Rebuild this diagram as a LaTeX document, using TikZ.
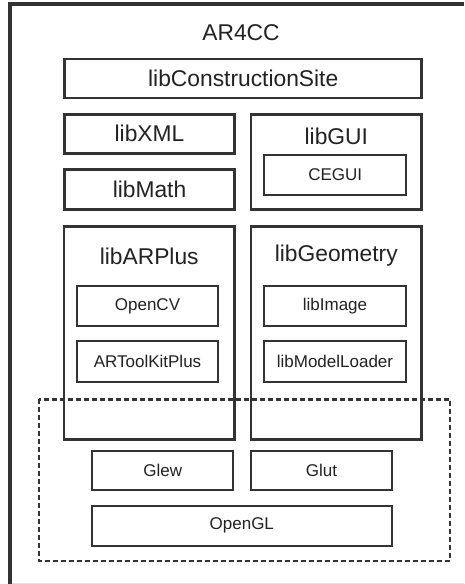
\documentclass[tikz,border=0pt]{standalone}
\usepackage{fontspec}
\setmainfont{Liberation Sans}
\definecolor{ln}{HTML}{333333}
\definecolor{tx}{HTML}{222222}
\tikzset{
  big/.style={draw=ln, line width=2.8pt, inner sep=0pt, text=tx, font=\fontsize{22.8}{24}\selectfont},
  small/.style={draw=ln, line width=1.8pt, inner sep=0pt, text=tx, font=\fontsize{17}{19}\selectfont},
  title/.style={inner sep=0pt, text=tx, font=\fontsize{22.8}{24}\selectfont},
  grp/.style={draw=ln, line width=2.4pt, dash pattern=on 5pt off 3pt},
}
\begin{document}
\begin{tikzpicture}[x=1pt,y=-1pt]
\useasboundingbox (0,0) rectangle (464,584);
\fill[white] (0,0) rectangle (464,584);
% outer frame (cropped)
\draw[line width=0.8pt, draw=black!12] (10,583) -- (464,583);
\draw[ln, line width=3.2pt] (10,584) -- (10,4) -- (464,4);
\node[title] (ar) at (241,33) {AR4CC};
% top
\node[big, minimum width=357pt, minimum height=39pt] (cs) at (243.2,78.5) {libConstructionSite};
\node[big, minimum width=169.6pt, minimum height=39pt] (xml) at (149.5,133.8) {libXML};
\node[big, minimum width=169.6pt, minimum height=40pt] (math) at (149.5,189.3) {libMath};
\node[big, minimum width=170.7pt, minimum height=95pt] (gui) at (336.3,161.8) {};
\node[title] (guit) at (336.3,136) {libGUI};
\node[small, minimum width=141.7pt, minimum height=40.3pt] (cegui) at (335.2,174.8) {CEGUI};
% middle
\node[big, minimum width=170.3pt, minimum height=212.6pt] (arp) at (149.2,333) {};
\node[title] (arpt) at (149.2,256) {libARPlus};
\node[big, minimum width=170.7pt, minimum height=212.6pt] (geo) at (336.3,333) {};
\node[title] (geot) at (336.3,256) {libGeometry};
\node[small, minimum width=141.6pt, minimum height=40pt] (cv) at (147.5,306) {OpenCV};
\node[small, minimum width=141.6pt, minimum height=40.7pt] (atk) at (147.5,361.3) {ARToolKitPlus};
\node[small, minimum width=142pt, minimum height=40pt] (img) at (335,306) {libImage};
\node[small, minimum width=142pt, minimum height=40.7pt] (ml) at (335,361.3) {libModelLoader};
% bottom
\node[small, minimum width=141.3pt, minimum height=39.3pt] (glew) at (162.7,470.3) {Glew};
\node[small, minimum width=141.6pt, minimum height=39.3pt] (glut) at (321.5,470.3) {Glut};
\node[small, minimum width=299.7pt, minimum height=39.7pt] (gl) at (241.8,525.8) {OpenGL};
\draw[grp] (38.7,399.3) rectangle (450,561);
\end{tikzpicture}
\end{document}
